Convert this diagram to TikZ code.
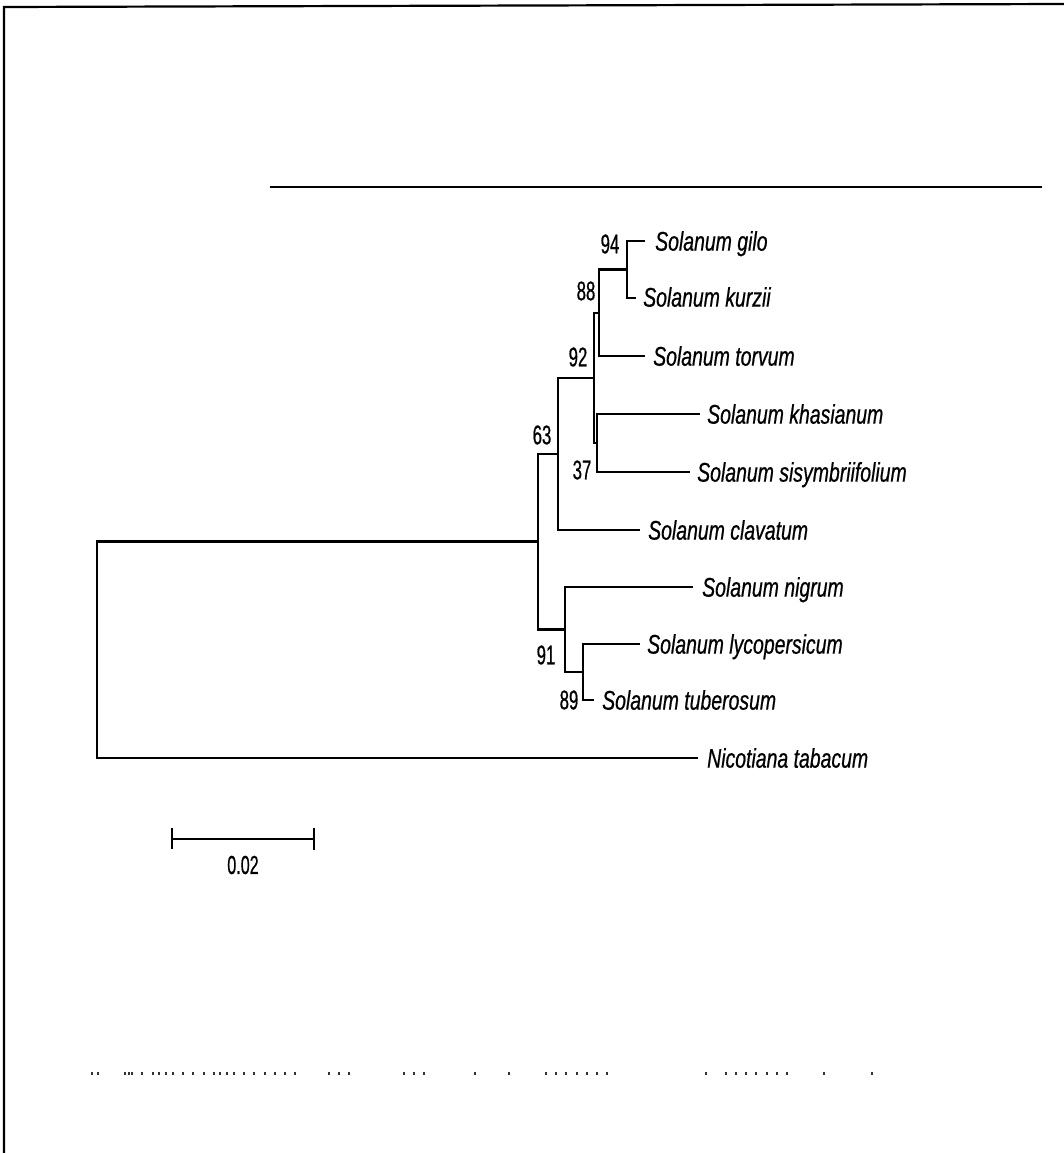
\documentclass[tikz,border=0pt]{standalone}
\usepackage{fontspec}
\setmainfont{Liberation Sans}
\newfontfamily\taxfont{Liberation Sans}[FakeStretch=0.72,FakeBold=0.6]
\newfontfamily\bootfont{Liberation Sans}[FakeStretch=0.62,FakeBold=0.6]
\begin{document}
\begin{tikzpicture}[x=1pt,y=-1pt,
  branch/.style={line width=2.4pt},
  frameline/.style={line width=2.2pt},
  taxon/.style={anchor=west,inner sep=0pt,text height=19.3pt,text depth=0pt,
    font=\taxfont\itshape\fontsize{27}{30}\selectfont},
  boot/.style={inner sep=0pt,font=\bootfont\fontsize{27}{30}\selectfont},
  speck/.style={fill=black!80}]
\useasboundingbox (0,0) rectangle (1064,1153);
% frame
\coordinate (fbl) at (4,1153);
\coordinate (ftl) at (4,7);
\coordinate (ftr) at (1064,4);
\draw[frameline] (fbl) -- (ftl) -- (ftr);
\coordinate (hl) at (270,187);
\coordinate (hr) at (1042,187);
\draw[frameline] (hl) -- (hr);
% internal nodes
\coordinate (root) at (97,649.5);
\coordinate (ing) at (538,541.5);
\coordinate (n63) at (558,454);
\coordinate (n92) at (594,378);
\coordinate (n88) at (599,313);
\coordinate (n94) at (627,269.5);
\coordinate (n37) at (597,443);
\coordinate (n91) at (565,629.5);
\coordinate (n89) at (583,672);
% tip ends
\coordinate (tgilo) at (645,241);
\coordinate (tkurz) at (636,298);
\coordinate (ttorv) at (645,356);
\coordinate (tkhas) at (700,414);
\coordinate (tsisy) at (690,472);
\coordinate (tclav) at (640,530);
\coordinate (tnig) at (693,587);
\coordinate (tlyc) at (640,644);
\coordinate (ttub) at (594,700);
\coordinate (tnic) at (698,758);
% labels
\node[taxon] (lgilo) at (655,241) {Solanum gilo};
\node[taxon] (lkurz) at (643,297) {Solanum kurzii};
\node[taxon] (ltorv) at (653,356) {Solanum torvum};
\node[taxon] (lkhas) at (707,414) {Solanum khasianum};
\node[taxon] (lsisy) at (697,472) {Solanum sisymbriifolium};
\node[taxon] (lclav) at (648,530) {Solanum clavatum};
\node[taxon] (lnig) at (702,587) {Solanum nigrum};
\node[taxon] (llyc) at (647,644) {Solanum lycopersicum};
\node[taxon] (ltub) at (602,700) {Solanum tuberosum};
\node[taxon] (lnic) at (707,758) {Nicotiana tabacum};
% branches
\draw[branch] (root) |- (ing);
\draw[branch] (root) |- (tnic);
\draw[branch] (ing) |- (n63);
\draw[branch] (ing) |- (n91);
\draw[branch] (n63) |- (n92);
\draw[branch] (n63) |- (tclav);
\draw[branch] (n92) |- (n88);
\draw[branch] (n92) |- (n37);
\draw[branch] (n88) |- (n94);
\draw[branch] (n88) |- (ttorv);
\draw[branch] (n94) |- (tgilo);
\draw[branch] (n94) |- (tkurz);
\draw[branch] (n37) |- (tkhas);
\draw[branch] (n37) |- (tsisy);
\draw[branch] (n91) |- (tnig);
\draw[branch] (n91) |- (n89);
\draw[branch] (n89) |- (tlyc);
\draw[branch] (n89) |- (ttub);
% bootstrap values
\node[boot] (b94) at (610,244) {94};
\node[boot] (b88) at (586,291) {88};
\node[boot] (b92) at (578,357) {92};
\node[boot] (b63) at (542,435) {63};
\node[boot] (b37) at (582,470) {37};
\node[boot] (b91) at (546,655) {91};
\node[boot] (b89) at (569,700) {89};
% scale bar
\coordinate (sl) at (172,839);
\coordinate (sr) at (314,839);
\coordinate (slt) at (172,828);
\coordinate (slb) at (172,849);
\coordinate (srt) at (314,828);
\coordinate (srb) at (314,850);
\draw[branch] (sl) -- (sr);
\draw[branch] (slt) -- (slb);
\draw[branch] (srt) -- (srb);
\node[boot,font=\bootfont\fontsize{26}{30}\selectfont] (scale) at (243,865) {0.02};
% scan specks
\foreach \px in {92,98,125,129,132,142,153,159,166,173,183,193,204,214,220,227,234,244,254,265,275,285,295,329,339,349,404,414,424,475,509,546,556,566,577,587,597,607,706,726,736,746,756,767,777,787,824,872}
  \fill[speck] (\px-1,1071.5) rectangle (\px+1,1074.5);
\end{tikzpicture}
\end{document}
